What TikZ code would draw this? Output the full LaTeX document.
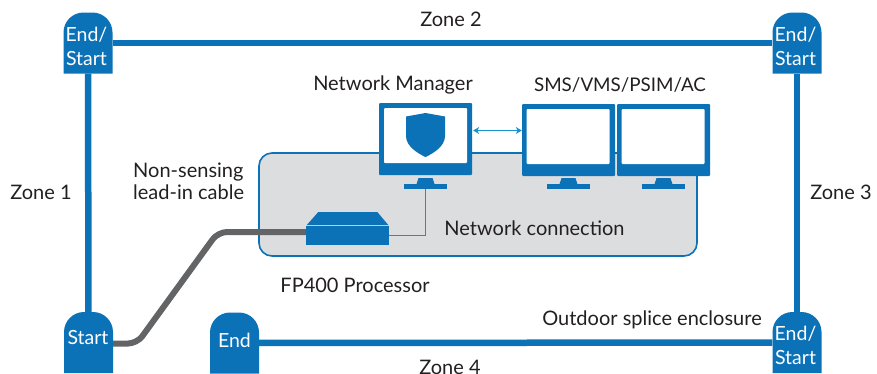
\documentclass[tikz,border=0pt]{standalone}
\usepackage{fontspec}
\setmainfont{Lato}
\definecolor{zoneblue}{HTML}{0C72B8}
\definecolor{linkblue}{HTML}{1791CF}
\definecolor{roomgray}{HTML}{DCDDDE}
\definecolor{cablegray}{HTML}{636466}
\definecolor{inkblack}{HTML}{231F20}
\usetikzlibrary{arrows.meta}
\tikzset{
    every node/.style={font=\fontsize{20}{22}\selectfont,text=inkblack,align=center,inner sep=0pt},
    tabbox/.style={minimum width=49pt,minimum height=61pt,
        path picture={\fill[zoneblue] (path picture bounding box.south west)
            -- ([yshift=-20pt]path picture bounding box.north west)
            arc[start angle=180,end angle=90,x radius=20pt,y radius=20pt]
            -- ([xshift=-20pt]path picture bounding box.north east)
            arc[start angle=90,end angle=0,x radius=20pt,y radius=20pt]
            -- (path picture bounding box.south east) -- cycle;}},
    tabtext/.style={font=\fontsize{19.5}{24}\selectfont,text=white},
    zone/.style={draw=zoneblue,line width=6.5pt},
    monitor/.style={fill=zoneblue,minimum width=93pt,minimum height=72pt,rounded corners=1pt},
    screen/.style={fill=white,minimum width=83pt,minimum height=55pt,rounded corners=1pt},
    link/.style={draw=linkblue,line width=1.8pt},
}
\begin{document}
\begin{tikzpicture}[x=1pt,y=-1pt]
    \useasboundingbox (0,0) rectangle (877,373);
    % room
    \node (room) [fill=roomgray,draw=zoneblue,line width=1.6pt,rounded corners=13pt,
        minimum width=438pt,minimum height=103pt] at (478,204.5) {};
    % enclosures
    \node (tl) [tabbox] at (88,43) {};
    \node (tr) [tabbox] at (797,43) {};
    \node (bl) [tabbox] at (88.5,342.5) {};
    \node (be) [tabbox] at (234.5,343) {};
    \node (br) [tabbox] at (797,342.5) {};
    \node (tltext) [tabtext] at (86.5,46) {End/\\Start};
    \node (trtext) [tabtext] at (795.5,46) {End/\\Start};
    \node (bltext) [tabtext] at (88,338) {Start};
    \node (betext) [tabtext] at (234.5,340) {End};
    \node (brtext) [tabtext] at (795.5,345.5) {End/\\Start};
    \path
        (tl) edge [zone] (tr)
        (tl) edge [zone] (bl)
        (tr) edge [zone] (br)
        (be) edge [zone] (br);
    % processor
    \node (fp) [fill=zoneblue,minimum width=83pt,minimum height=19pt] at (347.5,235.5) {};
    \fill[zoneblue] (fp.north west) ++(1,-0.8) -- ++(11.5,-13) -- ++(59,0) -- ++(11,13) -- cycle;
    \coordinate (bend) at (425.5,235.5);
    \coordinate (kneea) at (137,343.5);
    \coordinate (kneeb) at (218,232);
    \coordinate (cableend) at (fp.west |- kneeb);
    \draw[cablegray,line width=6pt,rounded corners=9pt] (bl.east |- kneea) -- (kneea) -- (kneeb) -- (cableend);
    % monitors
    \node (nm) [monitor] at (425.5,139) {};
    \node (sa) [monitor] at (568.5,140) {};
    \node (sb) [monitor] at (663.5,140) {};
    \node (nmscreen) [screen] at (425.5,135.5) {};
    \node (sascreen) [screen] at (568,136.5) {};
    \node (sbscreen) [screen] at (663,136.5) {};
    \foreach \m/\d in {nm/0.8,sa/0,sb/0} {
        \fill[zoneblue] (\m.south) ++(-7,\d+2) -- ++(14,0) -- ++(2,6) -- ++(-18,0) -- cycle;
        \fill[zoneblue] (\m.south) ++(-21.5,\d+8) rectangle ++(43,5);
    }
    \coordinate (nmbase) at (425.5,189);
    \draw[link] (fp.east |- bend) -- (bend) -- (nmbase);
    \draw[link,line width=1.3pt,{Stealth[length=6pt,width=7pt]}-{Stealth[length=6pt,width=7pt]}] (nm.east |- 0,130.5) ++(1,0) -- (sa.west |- 0,130.5);
    % shield
    \fill[zoneblue] (425.5,113) -- (445,116.5) -- (445,136) .. controls (445,146) and (434,153) .. (425.5,157)
        .. controls (417,153) and (406,146) .. (406,136) -- (406,116.5) -- cycle;
    % labels
    \node (zonetwo) at (451,19) {Zone 2};
    \node (zoneone) at (41,192) {Zone 1};
    \node (zonethree) at (841,192) {Zone 3};
    \node (zonefour) at (450,367) {Zone 4};
    \node (nmlabel) at (393,85) {Network Manager};
    \node (smslabel) [font=\fontsize{18.8}{22}\selectfont] at (620,85) {SMS/VMS/PSIM/AC};
    \node (cablelabel) [align=left,anchor=west] at (133,181.5) {Non-sensing\\lead-in cable};
    \node (netlabel) at (534.5,228) {Network connection};
    \node (fplabel) at (355,285) {FP400 Processor};
    \node (splicelabel) at (652,320) {Outdoor splice enclosure};
\end{tikzpicture}
\end{document}
